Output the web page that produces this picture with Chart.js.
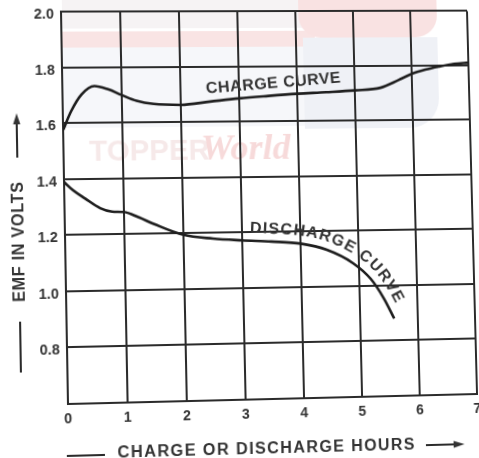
<!DOCTYPE html>
<html>
<head>
<meta charset="utf-8">
<title>EMF during charge and discharge</title>
<script src="https://cdn.jsdelivr.net/npm/chart.js@4.4.1/dist/chart.umd.min.js"></script>
<style>
  html, body { margin: 0; padding: 0; background: #fff; }
  #wrap { position: relative; width: 479px; height: 458px; overflow: hidden; }
  #emfChart { display: block; transform-origin: 0 0; }
</style>
</head>
<body>
<div id="wrap"><canvas id="emfChart" width="479" height="470"></canvas></div>
<script>
// axis ranges / tick labels
const hourTicks = [0, 1, 2, 3, 4, 5, 6, 7];
const voltTicks = [0.8, 1.0, 1.2, 1.4, 1.6, 1.8, 2.0];

// charge curve (hours, volts)
const chargeHours = [0, 0.14, 0.32, 0.54, 0.77, 1.0, 1.25, 1.54, 2.0, 2.5, 3.0, 3.5, 4.0, 4.5, 5.0, 5.45, 5.76, 6.0, 6.24, 6.48, 6.75, 7.0];
const chargeEmf   = [1.576, 1.643, 1.703, 1.733, 1.721, 1.70, 1.679, 1.667, 1.663, 1.674, 1.685, 1.693, 1.70, 1.705, 1.711, 1.72, 1.747, 1.77, 1.785, 1.796, 1.806, 1.81];

// discharge curve (hours, volts)
const dischargeHours = [0, 0.15, 0.35, 0.6, 0.8, 1.0, 1.25, 1.5, 2.0, 2.5, 3.0, 3.5, 4.0, 4.45, 4.9, 5.2, 5.42, 5.59];
const dischargeEmf   = [1.39, 1.36, 1.33, 1.295, 1.282, 1.28, 1.26, 1.236, 1.195, 1.18, 1.172, 1.166, 1.157, 1.133, 1.083, 1.025, 0.953, 0.88];

// curve captions: text, anchor (hours, volts)
const chargeCaption = { text: 'CHARGE CURVE', hours: 3.6, emf: 1.738 };
const dischargeCaption = { text: 'DISCHARGE CURVE', hours: 3.12 };

const xTitle = 'CHARGE OR DISCHARGE HOURS';
const yTitle = 'EMF IN VOLTS';

// where the plot corners end up on the page (TL, TR, BL, BR)
const pageCorners = [[61, 12], [467, 11], [68, 404], [477, 394]];

const INK = '#2b2b2b';
const TEXT = '#333';
const FONT = '"Liberation Sans", Arial, sans-serif';

function toPoints(xs, ys) {
  return xs.map((x, i) => ({ x: x, y: ys[i] }));
}

// sample the drawn spline of a dataset
function splineSamples(chart, idx) {
  const pts = chart.getDatasetMeta(idx).data;
  const out = [];
  for (let i = 0; i < pts.length - 1; i++) {
    const a = pts[i], b = pts[i + 1];
    const c1x = a.cp2x ?? a.x, c1y = a.cp2y ?? a.y;
    const c2x = b.cp1x ?? b.x, c2y = b.cp1y ?? b.y;
    for (let k = 0; k < 16; k++) {
      const t = k / 16, u = 1 - t;
      out.push({
        x: u * u * u * a.x + 3 * u * u * t * c1x + 3 * u * t * t * c2x + t * t * t * b.x,
        y: u * u * u * a.y + 3 * u * u * t * c1y + 3 * u * t * t * c2y + t * t * t * b.y
      });
    }
  }
  const last = pts[pts.length - 1];
  out.push({ x: last.x, y: last.y });
  return out;
}

// text along a curve, lifted off it by `lift` px
function textOnCurve(ctx, samples, text, startX, lift, spacing) {
  const path = [];
  for (let i = 0; i < samples.length; i++) {
    const p = samples[Math.max(0, i - 1)], q = samples[Math.min(samples.length - 1, i + 1)];
    let tx = q.x - p.x, ty = q.y - p.y;
    const len = Math.hypot(tx, ty) || 1;
    tx /= len; ty /= len;
    path.push({ x: samples[i].x + ty * lift, y: samples[i].y - tx * lift });
  }
  const dist = [0];
  for (let i = 1; i < path.length; i++) {
    dist.push(dist[i - 1] + Math.hypot(path[i].x - path[i - 1].x, path[i].y - path[i - 1].y));
  }
  const at = (s) => {
    let i = 1;
    while (i < path.length - 1 && dist[i] < s) i++;
    const a = path[i - 1], b = path[i];
    const f = (s - dist[i - 1]) / ((dist[i] - dist[i - 1]) || 1);
    return { x: a.x + (b.x - a.x) * f, y: a.y + (b.y - a.y) * f, ang: Math.atan2(b.y - a.y, b.x - a.x) };
  };
  let start = 0;
  for (let i = 0; i < path.length; i++) {
    if (path[i].x >= startX) { start = dist[i]; break; }
  }
  let s = start;
  ctx.textAlign = 'center';
  ctx.textBaseline = 'alphabetic';
  for (const ch of text) {
    const w = ctx.measureText(ch).width;
    const p = at(s + w / 2);
    ctx.save();
    ctx.translate(p.x, p.y);
    ctx.rotate(p.ang);
    ctx.fillText(ch, 0, 0);
    ctx.restore();
    s += w + spacing;
  }
}

function arrowHead(ctx, x, y, dir) {
  // dir: 'up' or 'right'
  ctx.beginPath();
  if (dir === 'up') {
    ctx.moveTo(x, y); ctx.lineTo(x - 3.5, y + 11); ctx.lineTo(x + 3.5, y + 11);
  } else {
    ctx.moveTo(x, y); ctx.lineTo(x - 11, y - 3.5); ctx.lineTo(x - 11, y + 3.5);
  }
  ctx.closePath();
  ctx.fill();
}

const figurePlugin = {
  id: 'figure',
  beforeDraw(chart) {
    const ctx = chart.ctx;
    ctx.save();
    ctx.fillStyle = '#fff';
    ctx.fillRect(0, 0, chart.width, chart.height);
    // faint logo behind the grid
    ctx.fillStyle = '#f6f3f4';
    ctx.fillRect(62, 0, 240, 32);
    ctx.fillStyle = '#f9e4e4';
    ctx.fillRect(62, 35, 250, 16);
    ctx.fillStyle = '#f9e2e2';
    ctx.beginPath();
    ctx.roundRect(296, -20, 140, 62, 22);
    ctx.fill();
    ctx.fillStyle = '#f6f7fa';
    ctx.fillRect(62, 51, 240, 80);
    ctx.fillStyle = '#eff1f6';
    ctx.beginPath();
    ctx.roundRect(300, 42, 136, 92, [0, 0, 30, 0]);
    ctx.fill();
    ctx.font = 'bold 29px ' + FONT;
    ctx.fillStyle = '#f6e9e9';
    ctx.textBaseline = 'alphabetic';
    ctx.fillText('TOPPER', 86, 164);
    ctx.font = 'italic bold 36px "Liberation Serif", serif';
    ctx.fillStyle = '#f7dada';
    ctx.fillText('World', 196, 164);
    ctx.restore();
  },
  afterDatasetsDraw(chart) {
    const { ctx, scales } = chart;
    ctx.save();
    ctx.fillStyle = TEXT;

    // charge caption, tilted with the curve
    ctx.font = 'bold 16px ' + FONT;
    ctx.letterSpacing = '0.5px';
    ctx.textAlign = 'center';
    ctx.textBaseline = 'middle';
    ctx.translate(scales.x.getPixelForValue(chargeCaption.hours), scales.y.getPixelForValue(chargeCaption.emf));
    ctx.rotate(-4.3 * Math.PI / 180);
    ctx.fillText(chargeCaption.text, 0, 0);
    ctx.setTransform(1, 0, 0, 1, 0, 0);
    ctx.letterSpacing = '0px';

    // discharge caption follows the curve
    ctx.font = 'bold 16px ' + FONT;
    textOnCurve(ctx, splineSamples(chart, 1), dischargeCaption.text,
      scales.x.getPixelForValue(dischargeCaption.hours), 8, 1.2);
    ctx.restore();
  },
  afterDraw(chart) {
    const ctx = chart.ctx;
    ctx.save();
    ctx.fillStyle = TEXT;
    ctx.strokeStyle = INK;
    ctx.lineWidth = 2;

    // y title with its arrow
    ctx.save();
    ctx.translate(16, 243);
    ctx.rotate(-Math.PI / 2);
    ctx.font = 'bold 16px ' + FONT;
    ctx.letterSpacing = '0.7px';
    ctx.textAlign = 'center';
    ctx.textBaseline = 'middle';
    ctx.fillText(yTitle, 0, 1);
    ctx.restore();
    ctx.beginPath();
    ctx.moveTo(16, 160); ctx.lineTo(16, 124);
    ctx.moveTo(16, 322); ctx.lineTo(16, 372);
    ctx.stroke();
    arrowHead(ctx, 16, 116, 'up');

    // x title with its arrow
    ctx.font = 'bold 16px ' + FONT;
    ctx.letterSpacing = '1.4px';
    ctx.textAlign = 'center';
    ctx.textBaseline = 'middle';
    ctx.fillText(xTitle, 256, 454);
    ctx.letterSpacing = '0px';
    ctx.beginPath();
    ctx.moveTo(59, 455); ctx.lineTo(96, 455);
    ctx.moveTo(414, 454); ctx.lineTo(446, 454);
    ctx.stroke();
    arrowHead(ctx, 453, 454, 'right');
    ctx.restore();
  }
};

const lineStyle = {
  borderColor: '#1e1e1e',
  borderWidth: 2.6,
  pointRadius: 0,
  fill: false,
  cubicInterpolationMode: 'monotone'
};

const chart = new Chart(document.getElementById('emfChart'), {
  type: 'line',
  data: {
    datasets: [
      { label: 'Charge', data: toPoints(chargeHours, chargeEmf), ...lineStyle },
      { label: 'Discharge', data: toPoints(dischargeHours, dischargeEmf), ...lineStyle }
    ]
  },
  options: {
    responsive: false,
    animation: false,
    devicePixelRatio: 1,
    layout: { padding: { left: 0, top: 12, right: 12, bottom: 0 } },
    scales: {
      x: {
        type: 'linear',
        min: hourTicks[0],
        max: hourTicks[hourTicks.length - 1],
        afterBuildTicks: (s) => { s.ticks = hourTicks.map(v => ({ value: v })); },
        afterFit: (s) => { s.height = 66; },
        ticks: { color: TEXT, font: { family: FONT, size: 14, weight: 'bold' }, padding: 7, maxRotation: 0 },
        grid: { color: INK, lineWidth: 2, drawTicks: false },
        border: { color: INK, width: 2 }
      },
      y: {
        min: 0.6,
        max: voltTicks[voltTicks.length - 1],
        afterBuildTicks: (s) => { s.ticks = [0.6, ...voltTicks].map(v => ({ value: v })); },
        afterFit: (s) => { s.width = 61; },
        ticks: {
          color: TEXT,
          font: { family: FONT, size: 14, weight: 'bold' },
          padding: 7,
          labelOffset: 3,
          callback: (v) => (v < 0.7 ? '' : v.toFixed(1))
        },
        grid: { color: INK, lineWidth: 2, drawTicks: false },
        border: { color: INK, width: 2 }
      }
    },
    plugins: { legend: { display: false }, tooltip: { enabled: false } }
  },
  plugins: [figurePlugin]
});

// projective map taking the plot rectangle onto pageCorners
function homography(src, dst) {
  const A = [], B = [];
  for (let i = 0; i < 4; i++) {
    const [x, y] = src[i], [u, v] = dst[i];
    A.push([x, y, 1, 0, 0, 0, -u * x, -u * y]); B.push(u);
    A.push([0, 0, 0, x, y, 1, -v * x, -v * y]); B.push(v);
  }
  for (let c = 0; c < 8; c++) {
    let p = c;
    for (let r = c + 1; r < 8; r++) if (Math.abs(A[r][c]) > Math.abs(A[p][c])) p = r;
    [A[c], A[p]] = [A[p], A[c]];
    [B[c], B[p]] = [B[p], B[c]];
    for (let r = 0; r < 8; r++) {
      if (r === c) continue;
      const f = A[r][c] / A[c][c];
      for (let k = c; k < 8; k++) A[r][k] -= f * A[c][k];
      B[r] -= f * B[c];
    }
  }
  return B.map((b, i) => b / A[i][i]);
}

const area = chart.chartArea;
const h = homography(
  [[area.left, area.top], [area.right, area.top], [area.left, area.bottom], [area.right, area.bottom]],
  pageCorners
);
chart.canvas.style.transform =
  `matrix3d(${h[0]},${h[3]},0,${h[6]},${h[1]},${h[4]},0,${h[7]},0,0,1,0,${h[2]},${h[5]},0,1)`;
</script>
</body>
</html>
